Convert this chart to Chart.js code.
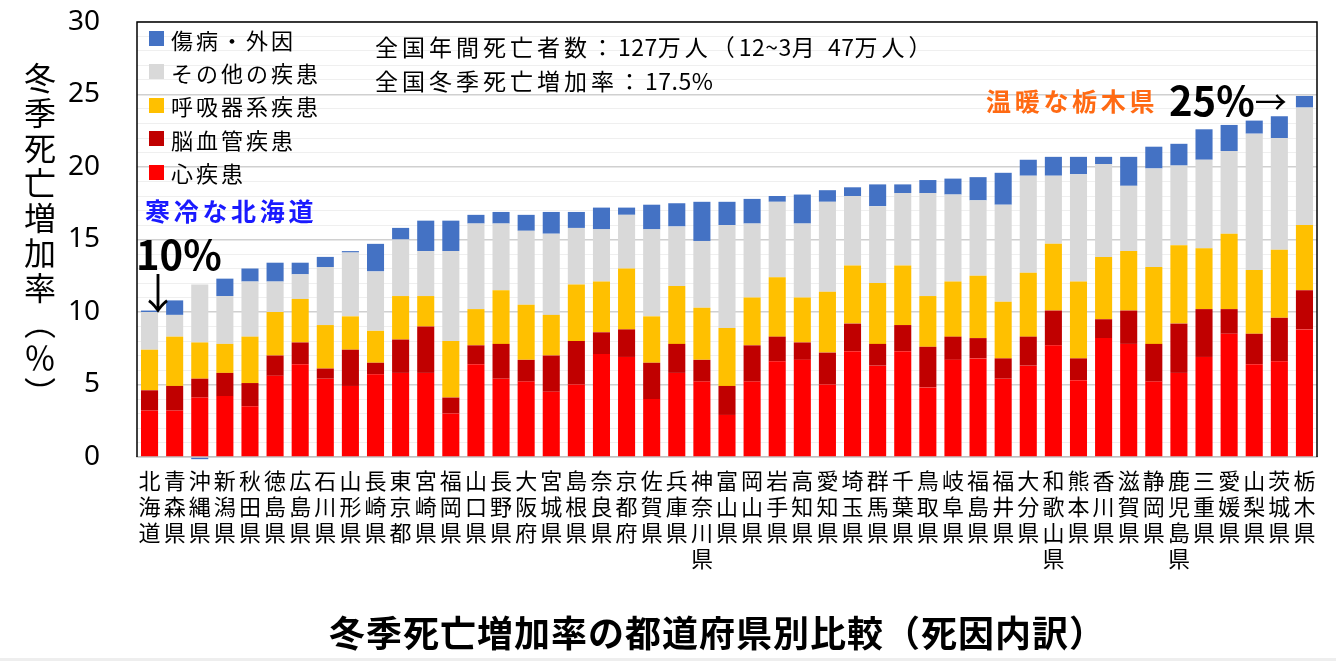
<!DOCTYPE html>
<html lang="ja">
<head>
<meta charset="utf-8">
<script src="https://cdn.jsdelivr.net/npm/chart.js@4.4.0/dist/chart.umd.min.js"></script>
<style>
  html, body { margin: 0; padding: 0; background: #fff; }
  #wrap { position: relative; width: 1336px; height: 661px; overflow: hidden; font-family: "Noto Sans CJK JP", "Noto Sans", sans-serif; }
  #chart { position: absolute; left: 0; top: 0; }
  .ov { position: absolute; line-height: 1; white-space: nowrap; color: #000; }
  .legend-box { position: absolute; width: 15px; height: 15px; }
  .legend-text { font-size: 22px; letter-spacing: 3px; }
  .note { font-size: 23px; letter-spacing: 4px; left: 375px; }
  .note .n { letter-spacing: 0.5px; }
  .ytitle { left: 24px; top: 62px; font-size: 32px; letter-spacing: 3px; writing-mode: vertical-rl; text-orientation: mixed; }
  .big { font-size: 40px; font-weight: bold; }
  .bottom-band { position: absolute; left: 0; right: 0; bottom: 0; height: 3px; background: #eee; }
</style>
</head>
<body>
<div id="wrap">
  <canvas id="chart" width="1336" height="661"></canvas>

  <div class="ov ytitle">冬季死亡増加率（％）</div>

  <div id="legend"></div>

  <div class="ov note" style="top:35px;">全国年間死亡者数：<span class="n">127</span>万人（<span class="n">12~3</span>月 <span class="n">47</span>万人）</div>
  <div class="ov note" style="top:69px;">全国冬季死亡増加率：<span class="n">17.5%</span></div>

  <div class="ov" style="left:145px; top:198px; font-size:25px; font-weight:bold; letter-spacing:3.7px; color:#1a1aff;">寒冷な北海道</div>
  <div class="ov big" style="left:136px; top:233px;">10%</div>
  <div class="ov" style="left:137px; top:270px; font-size:42px;">↓</div>

  <div class="ov" style="left:986px; top:88px; font-size:25px; font-weight:bold; letter-spacing:3.7px; color:#ff6a13;">温暖な栃木県</div>
  <div class="ov big" style="left:1169px; top:79px;">25%<span style="font-weight:normal; font-size:32px; position:relative; top:-2px;">→</span></div>

  <div class="ov" style="left:329px; top:613px; font-size:36px; font-weight:bold; letter-spacing:1px;">冬季死亡増加率の都道府県別比較（死因内訳）</div>
  <div class="bottom-band"></div>
</div>

<script>
// === DATA ===
const prefectures = [
  '北海道','青森県','沖縄県','新潟県','秋田県','徳島県','広島県','石川県','山形県','長崎県',
  '東京都','宮崎県','福岡県','山口県','長野県','大阪府','宮城県','島根県','奈良県','京都府',
  '佐賀県','兵庫県','神奈川県','富山県','岡山県','岩手県','高知県','愛知県','埼玉県','群馬県',
  '千葉県','鳥取県','岐阜県','福島県','福井県','大分県','和歌山県','熊本県','香川県','滋賀県',
  '静岡県','鹿児島県','三重県','愛媛県','山梨県','茨城県','栃木県'
];

const heart = [3.2,3.2,4.1,4.2,3.5,5.6,6.4,5.4,4.9,5.7,5.8,5.8,3.0,6.4,5.4,5.2,4.5,5.0,7.1,6.9,
  4.0,5.8,5.2,2.9,5.2,6.6,6.7,5.0,7.3,6.3,7.3,4.8,6.7,6.8,5.4,6.3,7.7,5.3,8.2,7.8,
  5.2,5.8,6.9,8.5,6.4,6.6,8.8];
const cerebro = [1.4,1.7,1.3,1.6,1.6,1.4,1.5,0.7,2.5,0.8,2.3,3.2,1.1,1.3,2.4,1.5,2.5,3.0,1.5,1.9,
  2.5,2.0,1.5,2.0,2.5,1.7,1.2,2.2,1.9,1.5,1.8,2.8,1.6,1.4,1.4,2.0,2.4,1.5,1.3,2.3,
  2.6,3.4,3.3,1.7,2.1,3.0,2.7];
const respiratory = [2.8,3.4,2.5,2.0,3.2,3.0,3.0,3.0,2.3,2.2,3.0,2.1,3.9,2.5,3.7,3.8,2.8,3.9,3.5,4.2,
  3.2,4.0,3.6,4.0,3.3,4.1,3.1,4.2,4.0,4.2,4.1,3.5,3.8,4.3,3.9,4.4,4.6,5.3,4.3,4.1,
  5.3,5.4,4.2,5.2,4.4,4.7,4.5];
const otherDisease = [2.6,1.5,4.0,3.3,3.8,2.1,1.7,4.0,4.4,4.1,3.9,3.1,6.2,5.9,4.6,5.1,5.6,3.9,3.6,3.7,
  6.0,4.1,4.6,7.1,5.1,5.2,5.1,6.2,4.8,5.3,5.0,7.1,6.0,5.2,6.7,6.7,4.7,7.4,6.4,4.5,
  6.8,5.5,6.1,5.7,9.4,7.7,8.1];
const injury = [0.1,1.0,-0.15,1.2,0.9,1.3,0.8,0.7,0.1,1.9,0.8,2.1,2.1,0.6,0.8,1.1,1.5,1.1,1.5,0.5,
  1.7,1.6,2.7,1.6,1.7,0.4,2.0,0.8,0.6,1.5,0.6,0.9,1.1,1.6,2.2,1.1,1.3,1.2,0.5,2.0,
  1.5,1.5,2.1,1.8,0.9,1.5,0.8];

const seriesNames = ['心疾患', '脳血管疾患', '呼吸器系疾患', 'その他の疾患', '傷病・外因'];
const seriesColors = ['#FF0000', '#C00000', '#FFC000', '#D9D9D9', '#4472C4'];
const seriesValues = [heart, cerebro, respiratory, otherDisease, injury];
const yMin = 0, yMax = 30, yLabelStep = 5;

// === LEGEND (top item = top of stack) ===
const legend = document.getElementById('legend');
legend.innerHTML = seriesNames.map((name, i) => ({ name, color: seriesColors[i] })).reverse().map((s, k) => {
  const cy = 38.5 + k * 33.4;
  return `<div class="legend-box" style="left:149px; top:${cy - 7.5}px; background:${s.color};"></div>` +
         `<div class="ov legend-text" style="left:171px; top:${cy - 11}px;">${s.name}</div>`;
}).join('');

// === BOX BORDER ===
const frame = {
  id: 'frame',
  afterDatasetsDraw(chart) {
    const { ctx, chartArea: a } = chart;
    ctx.save();
    ctx.strokeStyle = '#000';
    ctx.lineWidth = 1.5;
    ctx.beginPath();
    ctx.moveTo(a.left, a.bottom);
    ctx.lineTo(a.left, a.top);
    ctx.lineTo(a.right, a.top);
    ctx.lineTo(a.right, a.bottom);
    ctx.stroke();
    ctx.restore();
  }
};

// fixed plot box: left 137, top 22, right 1317, bottom 457
const noPad = s => { s.paddingTop = 0; s.paddingBottom = 0; s.paddingLeft = 0; s.paddingRight = 0; };

new Chart(document.getElementById('chart'), {
  type: 'bar',
  data: {
    labels: prefectures,
    datasets: seriesValues.map((vals, i) => ({
      label: seriesNames[i],
      data: vals,
      backgroundColor: seriesColors[i],
      borderWidth: 0,
      categoryPercentage: 1,
      barPercentage: 0.68,
      clip: i === 4 ? false : undefined
    }))
  },
  options: {
    responsive: false,
    animation: false,
    layout: { padding: { top: 22, right: 19, left: 0, bottom: 0 } },
    plugins: { legend: { display: false }, tooltip: { enabled: false } },
    scales: {
      x: {
        stacked: true,
        grid: { display: false, drawTicks: false },
        border: { color: '#bfbfbf', width: 1.5 },
        afterFit: s => { s.height = 204; noPad(s); },
        ticks: {
          autoSkip: false, maxRotation: 0, minRotation: 0, padding: 11,
          color: '#000',
          font: { family: '"Noto Sans CJK JP"', size: 22, lineHeight: 1.18 },
          callback: (v, i) => prefectures[i].split('')
        }
      },
      y: {
        stacked: true,
        min: yMin, max: yMax,
        afterFit: s => { s.width = 137; noPad(s); },
        border: { display: false },
        grid: {
          drawTicks: false,
          color: c => (c.tick.value % yLabelStep === 0 ? '#d0d0d0' : '#efefef'),
          lineWidth: c => (c.tick.value % yLabelStep === 0 ? 1.5 : 1)
        },
        ticks: {
          autoSkip: false,
          stepSize: 1, padding: 37, color: '#000',
          font: { family: '"Noto Sans"', size: 28 },
          callback: v => (v % yLabelStep === 0 ? v : '')
        }
      }
    }
  },
  plugins: [frame]
});
</script>
</body>
</html>
